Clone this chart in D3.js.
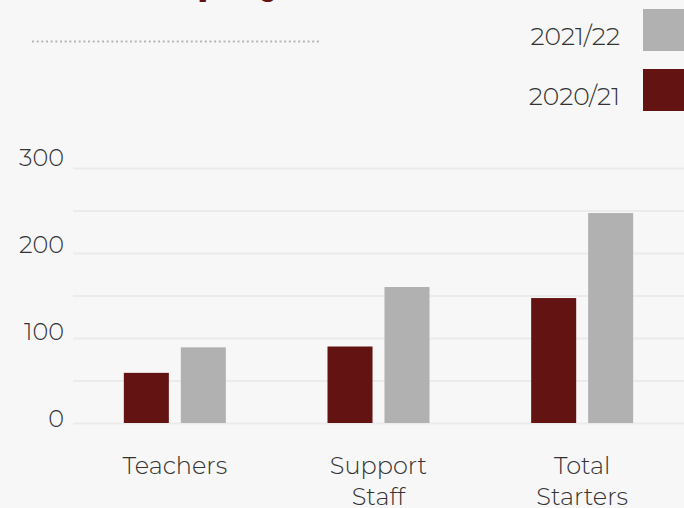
<!DOCTYPE html>
<html>
<head>
<meta charset="utf-8">
<script src="https://cdn.jsdelivr.net/npm/d3@7"></script>
<style>
  html, body { margin: 0; padding: 0; background: #f7f7f7; }
  svg { display: block; }
  text { font-family: Montserrat, "Noto Sans", "Open Sans", sans-serif; font-weight: 300; fill: #333; }
</style>
</head>
<body>
<div id="chart"></div>
<script>
// chart data
const categories = ["Teachers", "Support Staff", "Total Starters"];
const category_lines = [["Teachers"], ["Support", "Staff"], ["Total", "Starters"]];
const series = ["2020/21", "2021/22"];
const values_2020_21 = [59, 90, 147];
const values_2021_22 = [89, 160, 247];
const y_tick_labels = [0, 100, 200, 300];
const grid_values = [0, 50, 100, 150, 200, 250, 300];
const legend_order = ["2021/22", "2020/21"];
const title_text = "Employees";

const width = 684, height = 508;
const colors = { "2020/21": "#631412", "2021/22": "#b1b1b1" };

const svg = d3.select("#chart").append("svg")
  .attr("width", width)
  .attr("height", height);

svg.append("rect").attr("width", width).attr("height", height).attr("fill", "#f7f7f7");

// title, mostly scrolled off the top
svg.append("text")
  .attr("x", 128)
  .attr("y", -6)
  .style("font-size", "40px")
  .style("font-weight", 700)
  .style("fill", "#631412")
  .text(title_text);

// dotted rule
svg.append("line")
  .attr("x1", 32).attr("x2", 319)
  .attr("y1", 41.5).attr("y2", 41.5)
  .attr("stroke", "#b5b5b5")
  .attr("stroke-width", 2)
  .attr("stroke-dasharray", "2,2.67");

const x_scale = d3.scaleBand()
  .domain(categories)
  .range([73, 684]);

const x_inner = d3.scaleBand()
  .domain(series)
  .range([0, x_scale.bandwidth()])
  .paddingInner(0.21)
  .paddingOuter(0.892);

const y_scale = d3.scaleLinear()
  .domain([0, 300])
  .range([423, 168]);

// the tick labels sit on a slightly wider spacing than the gridlines
const y_label_scale = d3.scaleLinear()
  .domain([0, 300])
  .range([427, 166]);

// gridlines
svg.append("g")
  .attr("transform", "translate(73,0)")
  .call(d3.axisLeft(y_scale)
    .tickValues(grid_values)
    .tickSize(-(width - 73))
    .tickFormat(() => ""))
  .call(g => g.select(".domain").remove())
  .call(g => g.selectAll(".tick line").attr("stroke", "#ebebeb").attr("stroke-width", 2));

// y labels
svg.append("g").selectAll("text")
  .data(y_tick_labels)
  .enter()
  .append("text")
    .attr("x", 64)
    .attr("y", d => y_label_scale(d))
    .attr("text-anchor", "end")
    .style("font-size", "24px")
    .text(d => d);

// bars
const rows = categories.map((c, i) => ({
  category: c,
  values: [
    { key: "2020/21", value: values_2020_21[i] },
    { key: "2021/22", value: values_2021_22[i] }
  ]
}));

svg.append("g").selectAll("g")
  .data(rows)
  .enter()
  .append("g")
    .attr("transform", d => `translate(${x_scale(d.category)},0)`)
  .selectAll("rect")
  .data(d => d.values)
  .enter()
  .append("rect")
    .attr("x", d => x_inner(d.key))
    .attr("y", d => y_scale(d.value))
    .attr("width", x_inner.bandwidth())
    .attr("height", d => y_scale(0) - y_scale(d.value))
    .attr("fill", d => colors[d.key]);

// category labels
const cat_labels = svg.append("g").selectAll("text")
  .data(categories)
  .enter()
  .append("text")
    .attr("x", d => x_scale(d) + x_scale.bandwidth() / 2)
    .attr("y", 473.5)
    .attr("text-anchor", "middle")
    .style("font-size", "24px");

cat_labels.selectAll("tspan")
  .data((d, i) => category_lines[i])
  .enter()
  .append("tspan")
    .attr("x", function() { return d3.select(this.parentNode).attr("x"); })
    .attr("dy", (d, i) => i == 0 ? 0 : 31)
    .text(d => d);

// legend
const legend = svg.append("g").selectAll("g")
  .data(legend_order)
  .enter()
  .append("g")
    .attr("transform", (d, i) => `translate(0,${9 + i * 60})`);

legend.append("rect")
  .attr("x", 643)
  .attr("y", 0)
  .attr("width", 42)
  .attr("height", 42)
  .attr("fill", d => colors[d]);

legend.append("text")
  .attr("x", 620)
  .attr("y", 35.5)
  .attr("text-anchor", "end")
  .style("font-size", "25px")
  .text(d => d);
</script>
</body>
</html>
